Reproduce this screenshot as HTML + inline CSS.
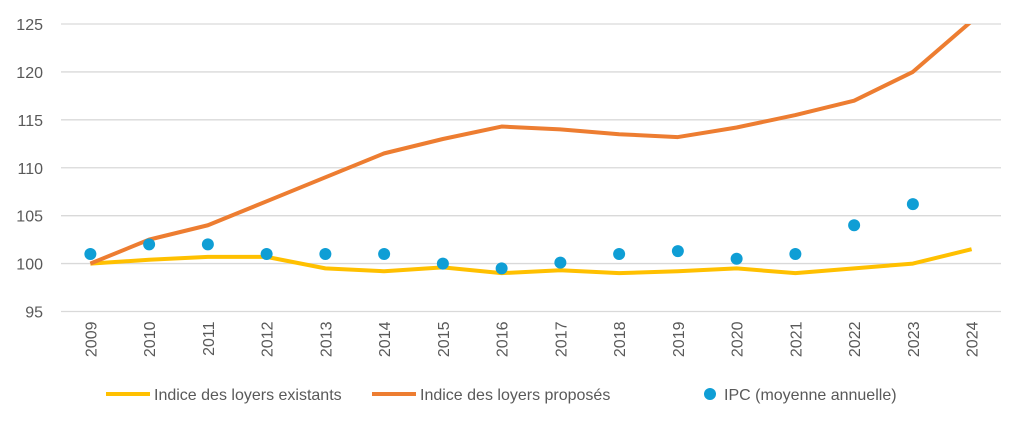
<!DOCTYPE html>
<html><head><meta charset="utf-8"><style>
body{margin:0;background:#fff;font-family:"Liberation Sans",sans-serif}
</style></head><body>
<svg id="chart" width="1024" height="426" xmlns="http://www.w3.org/2000/svg" font-family="Liberation Sans, sans-serif"></svg>
<script>
const years=["2009","2010","2011","2012","2013","2014","2015","2016","2017","2018","2019","2020","2021","2022","2023","2024"];
const existants=[100,100.4,100.7,100.7,99.5,99.2,99.6,99,99.3,99,99.2,99.5,99,99.5,100,101.5];
const proposes=[100,102.5,104,106.5,109,111.5,113,114.3,114,113.5,113.2,114.2,115.5,117,120,125.3];
const ipc=[101,102,102,101,101,101,100,99.5,100.1,101,101.3,100.5,101,104,106.2,null];
const yTicks=[95,100,105,110,115,120,125];
const svg=document.getElementById('chart');const NS='http://www.w3.org/2000/svg';
const L=61,R=1001,T=24,B=311.5,ymin=95,ymax=125;
const x=i=>L+(i+0.5)*(R-L)/years.length;
const y=v=>B-(v-ymin)/(ymax-ymin)*(B-T);
function mk(t,a,p){const e=document.createElementNS(NS,t);for(const k in a)e.setAttribute(k,a[k]);(p||svg).appendChild(e);return e;}
const defs=mk('defs',{});const cp=mk('clipPath',{id:'c'},defs);mk('rect',{x:0,y:T,width:1024,height:B-T+5},cp);
yTicks.forEach(v=>{
const g=mk('line',{x1:L,x2:R,y1:y(v),y2:y(v),stroke:'#d9d9d9','stroke-width':1.3});


const t=mk('text',{x:43,y:y(v)+6,'text-anchor':'end','font-size':16,fill:'#595959'});t.textContent=v;


});
years.forEach((yr,i)=>{
const t=mk('text',{transform:`translate(${x(i)+6},${B+10}) rotate(-90)`,'text-anchor':'end','font-size':16,fill:'#595959'});t.textContent=yr;


});
function line(arr,col,name){
const p=mk('polyline',{points:arr.map((v,i)=>x(i)+','+y(v)).join(' '),fill:'none',stroke:col,'stroke-width':4,'stroke-linejoin':'round','clip-path':'url(#c)'});


}
line(existants,'#ffc000','line-existants');
line(proposes,'#ed7d31','line-proposes');
ipc.forEach((v,i)=>{if(v==null)return;
const c=mk('circle',{cx:x(i),cy:y(v),r:6,fill:'#0f9ed5'});


});
const leg=[['line','#ffc000','Indice des loyers existants',106],['line','#ed7d31','Indice des loyers proposés',372],['dot','#0f9ed5','IPC (moyenne annuelle)',694]];
leg.forEach(([k,c,l,lx])=>{
const g=mk('g',{});


if(k=='line')mk('line',{x1:lx,x2:lx+44,y1:394,y2:394,stroke:c,'stroke-width':4},g);
else mk('circle',{cx:lx+16,cy:394,r:6,fill:c},g);
const t=mk('text',{x:k=='line'?lx+48:lx+30,y:400,'font-size':16,fill:'#595959'},g);t.textContent=l;
});
</script>
</body></html>
